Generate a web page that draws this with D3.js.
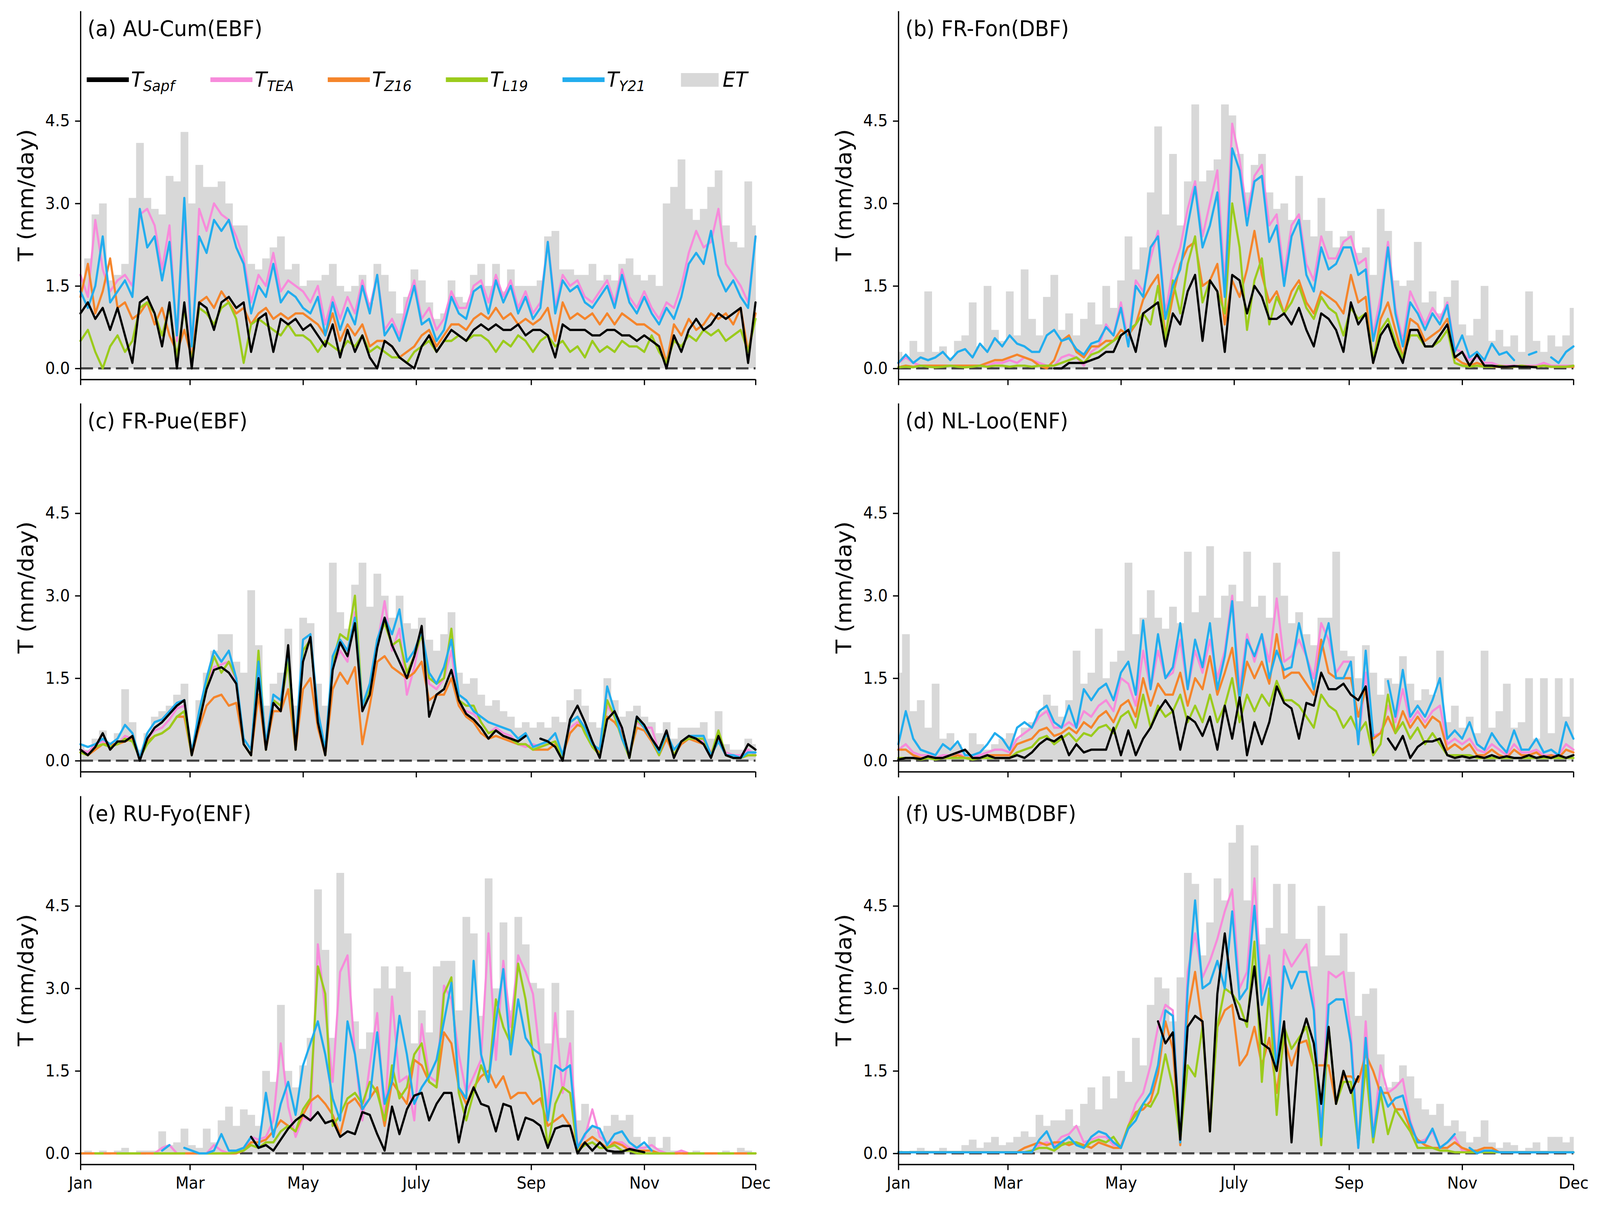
<!DOCTYPE html>
<html>
<head>
<meta charset="utf-8">
<script src="https://cdn.jsdelivr.net/npm/d3@7"></script>
<style>
  html, body { margin: 0; padding: 0; background: #fff; width: 100%; height: 100%; overflow: hidden; }
  #chart { width: 100vw; height: 100vh; }
  svg { display: block; font-family: 'DejaVu Sans', sans-serif; }
</style>
</head>
<body>
<div id="chart"></div>
<script>
// sampling grid (day of year) shared by all series
const sampleDays = [
  0, 4, 8, 12, 16, 20, 24, 28, 32, 36,
  40, 44, 48, 52, 56, 60, 64, 68, 72, 76,
  80, 84, 88, 92, 96, 100, 104, 108, 112, 116,
  120, 124, 128, 132, 136, 140, 144, 148, 152, 156,
  160, 164, 168, 172, 176, 180, 184, 188, 192, 196,
  200, 204, 208, 212, 216, 220, 224, 228, 232, 236,
  240, 244, 248, 252, 256, 260, 264, 268, 272, 276,
  280, 284, 288, 292, 296, 300, 304, 308, 312, 316,
  320, 324, 328, 332, 336, 340, 344, 348, 352, 356,
  360, 364]

const monthTickDays = [0, 59, 120, 181, 243, 304, 364]
const monthLabels = ['Jan', 'Mar', 'May', 'July', 'Sep', 'Nov', 'Dec']
const yTickValues = [0, 1.5, 3.0, 4.5]
const siteTitles = ['(a) AU-Cum(EBF)', '(b) FR-Fon(DBF)', '(c) FR-Pue(EBF)',
  '(d) NL-Loo(ENF)', '(e) RU-Fyo(ENF)', '(f) US-UMB(DBF)']
const seriesSubs = ['Sapf', 'TEA', 'Z16', 'L19', 'Y21']

// (a) AU-Cum
const auCumET = [
  1.6, 2.0, 2.8, 3.0, 1.6, 1.7, 1.9, 3.1, 4.1, 3.1,
  2.9, 2.8, 3.5, 3.4, 4.3, 3.0, 3.7, 3.3, 3.3, 3.4,
  3.0, 2.6, 2.6, 1.9, 1.8, 2.0, 2.2, 2.4, 1.8, 1.9,
  1.5, 1.6, 1.6, 1.7, 1.9, 1.5, 1.4, 1.5, 1.7, 1.2,
  1.9, 1.7, 1.4, 1.0, 1.3, 1.8, 1.6, 1.2, 0.9, 1.0,
  1.6, 1.3, 1.2, 1.7, 1.9, 1.5, 1.9, 1.4, 1.8, 1.5,
  1.5, 1.5, 1.6, 2.4, 2.5, 1.8, 1.8, 1.7, 1.7, 1.9,
  1.6, 1.7, 1.6, 1.9, 2.0, 1.7, 1.6, 1.7, 1.5, 3.0,
  3.3, 3.8, 2.9, 2.7, 2.9, 3.3, 3.6, 2.6, 2.3, 2.2,
  3.4, 2.6]
const auCumSapf = [
  1.0, 1.2, 0.9, 1.1, 0.7, 1.1, 0.6, 0.1, 1.2, 1.3,
  1.0, 0.4, 1.2, 0.0, 1.2, 0.0, 1.2, 1.1, 0.7, 1.2,
  1.3, 1.1, 1.2, 0.3, 0.9, 1.0, 0.3, 0.9, 0.8, 0.9,
  0.7, 0.8, 0.6, 0.4, 0.8, 0.2, 0.7, 0.3, 0.6, 0.2,
  0.0, 0.5, 0.4, 0.2, 0.1, 0.0, 0.4, 0.6, 0.3, 0.5,
  0.7, 0.6, 0.5, 0.7, 0.8, 0.7, 0.8, 0.7, 0.7, 0.8,
  0.6, 0.7, 0.7, 0.6, 0.2, 0.8, 0.7, 0.7, 0.7, 0.6,
  0.6, 0.7, 0.7, 0.6, 0.6, 0.5, 0.6, 0.5, 0.4, 0.0,
  0.6, 0.3, 0.7, 0.9, 0.7, 0.8, 1.0, 0.9, 1.0, 1.1,
  0.1, 1.2]
const auCumTEA = [
  1.7, 1.3, 2.7, 1.8, 1.4, 1.6, 1.7, 1.5, 2.8, 2.9,
  2.6, 1.8, 2.6, 0.5, 2.9, 0.2, 2.9, 2.5, 3.0, 2.8,
  2.7, 2.4, 2.0, 1.2, 1.7, 1.5, 2.1, 1.4, 1.6, 1.5,
  1.4, 1.2, 1.5, 0.8, 1.3, 0.9, 1.3, 1.0, 1.6, 1.1,
  1.7, 0.7, 0.9, 0.6, 1.2, 1.6, 0.9, 1.1, 0.7, 0.9,
  1.4, 1.1, 1.1, 1.5, 1.6, 1.2, 1.7, 1.3, 1.6, 1.1,
  1.4, 1.0, 1.2, 2.3, 1.1, 1.7, 1.5, 1.6, 1.3, 1.2,
  1.4, 1.6, 1.2, 1.8, 1.3, 1.1, 1.4, 1.1, 0.9, 1.2,
  1.1, 1.5, 2.1, 2.5, 2.2, 2.3, 2.9, 1.9, 1.7, 1.5,
  1.2, 2.4]
const auCumZ16 = [
  1.3, 1.9, 1.0, 1.4, 2.0, 1.1, 1.2, 0.9, 1.0, 1.2,
  0.8, 1.1, 0.6, 0.3, 0.7, 0.2, 1.2, 1.3, 1.1, 1.4,
  1.2, 1.0, 1.1, 0.8, 1.0, 1.1, 0.9, 1.0, 0.9, 1.0,
  1.0, 0.9, 0.8, 0.6, 1.0, 0.5, 0.8, 0.6, 0.8, 0.4,
  0.5, 0.5, 0.4, 0.2, 0.3, 0.4, 0.6, 0.7, 0.4, 0.6,
  0.8, 0.8, 0.7, 0.9, 1.0, 0.9, 1.1, 0.9, 1.0, 0.8,
  0.9, 0.8, 0.9, 1.1, 0.5, 1.2, 0.9, 1.0, 0.9, 1.0,
  0.8, 1.0, 0.8, 1.0, 0.9, 0.8, 0.8, 0.7, 0.6, 0.1,
  0.8, 0.6, 0.9, 0.7, 0.8, 1.0, 0.9, 1.0, 0.8, 1.1,
  0.3, 1.0]
const auCumL19 = [
  0.5, 0.7, 0.3, 0.0, 0.4, 0.6, 0.3, 0.5, 1.1, 1.2,
  1.0, 0.6, 1.1, 0.2, 1.1, 0.1, 1.1, 1.0, 0.8, 1.1,
  1.2, 0.9, 0.1, 0.8, 0.9, 0.8, 0.7, 0.6, 0.8, 0.6,
  0.6, 0.5, 0.3, 0.5, 0.4, 0.3, 0.5, 0.4, 0.6, 0.3,
  0.4, 0.3, 0.2, 0.2, 0.1, 0.3, 0.4, 0.5, 0.3, 0.5,
  0.5, 0.6, 0.5, 0.6, 0.6, 0.5, 0.3, 0.5, 0.4, 0.6,
  0.5, 0.3, 0.5, 0.6, 0.4, 0.5, 0.3, 0.4, 0.2, 0.5,
  0.3, 0.4, 0.3, 0.5, 0.4, 0.4, 0.3, 0.6, 0.3, 0.1,
  0.5, 0.4, 0.6, 0.5, 0.7, 0.6, 0.7, 0.5, 0.6, 0.7,
  0.3, 0.9]
const auCumY21 = [
  1.4, 1.1, 1.5, 2.4, 1.2, 1.4, 1.6, 1.3, 2.9, 2.2,
  2.4, 1.6, 2.3, 0.6, 3.1, 0.4, 2.4, 2.1, 2.7, 2.5,
  2.7, 2.2, 1.9, 1.0, 1.5, 1.3, 1.9, 1.2, 1.4, 1.3,
  1.1, 1.0, 1.3, 0.6, 1.2, 0.7, 1.1, 0.8, 1.5, 1.0,
  1.7, 0.6, 0.8, 0.5, 1.0, 1.5, 0.8, 0.9, 0.5, 0.7,
  1.3, 1.0, 0.9, 1.4, 1.5, 1.0, 1.6, 1.2, 1.5, 1.0,
  1.3, 0.9, 1.1, 2.3, 1.0, 1.6, 1.4, 1.5, 1.2, 1.1,
  1.3, 1.5, 1.1, 1.7, 1.2, 1.0, 1.3, 1.0, 0.8, 1.1,
  0.9, 1.3, 1.9, 2.1, 1.9, 2.5, 1.7, 1.4, 1.6, 1.3,
  1.1, 2.4]

// (b) FR-Fon
const frFonET = [
  0.3, 0.2, 0.5, 0.3, 1.4, 0.3, 0.4, 0.2, 0.5, 0.6,
  1.2, 0.4, 1.5, 0.7, 0.5, 1.4, 0.6, 1.8, 0.9, 0.6,
  1.3, 1.7, 0.7, 1.0, 0.6, 0.9, 1.2, 0.8, 1.5, 1.1,
  1.6, 2.4, 1.8, 2.2, 3.2, 4.4, 2.8, 3.9, 2.6, 3.4,
  4.8, 3.4, 3.6, 3.8, 4.8, 4.6, 3.9, 3.2, 3.7, 3.9,
  3.2, 2.9, 3.0, 2.7, 3.5, 2.7, 2.4, 3.1, 2.5, 2.2,
  2.4, 2.5, 2.1, 2.2, 1.7, 2.9, 2.5, 1.6, 1.5, 1.6,
  2.3, 1.2, 1.4, 1.0, 1.3, 1.6, 0.8, 0.6, 0.9, 1.5,
  0.5, 0.7, 0.4, 0.6, 0.3, 1.4, 0.5, 0.3, 0.6, 0.4,
  0.6, 1.1]
const frFonSapf = [
  null, null, null, null, null, null, null, null, null, null,
  null, null, null, null, null, null, null, null, null, null,
  null, 0.0, 0.0, 0.1, 0.1, 0.1, 0.15, 0.2, 0.3, 0.3,
  0.6, 0.7, 0.3, 1.0, 1.1, 1.2, 0.4, 1.0, 0.8, 1.4,
  1.7, 0.5, 1.6, 1.4, 0.3, 1.7, 1.6, 1.0, 1.5, 1.3,
  0.9, 0.9, 1.0, 0.8, 1.1, 0.7, 0.4, 1.0, 0.9, 0.7,
  0.3, 1.2, 0.8, 1.0, 0.1, 0.6, 0.8, 0.4, 0.1, 0.7,
  0.7, 0.4, 0.4, 0.6, 0.8, 0.2, 0.3, 0.05, 0.25, 0.05,
  0.05, 0.03, 0.03, 0.04, 0.03, 0.03, 0.02, null, null, null,
  null, null]
const frFonTEA = [
  0.1, 0.2, 0.1, 0.05, 0.05, 0.05, 0.05, 0.05, 0.05, 0.05,
  0.05, 0.05, 0.05, 0.1, 0.1, 0.15, 0.1, 0.2, 0.15, 0.1,
  0.05, 0.05, 0.2, 0.25, 0.2, 0.05, 0.3, 0.4, 0.8, 0.6,
  1.2, 0.5, 1.6, 1.4, 2.0, 2.5, 1.0, 1.8, 2.2, 2.9,
  3.4, 2.4, 3.0, 3.6, 1.5, 4.45, 3.8, 2.8, 3.5, 3.7,
  2.6, 2.8, 1.7, 2.6, 2.8, 1.9, 1.6, 2.4, 2.0, 2.0,
  2.3, 2.4, 1.9, 2.0, 0.6, 1.3, 2.3, 1.1, 0.5, 1.4,
  1.1, 0.8, 1.1, 0.9, 1.2, 0.35, 0.3, 0.15, 0.2, 0.1,
  0.1, 0.05, 0.05, 0.05, 0.05, 0.05, 0.05, 0.1, 0.05, 0.05,
  0.05, 0.05]
const frFonZ16 = [
  0.02, 0.05, 0.03, 0.05, 0.05, 0.05, 0.05, 0.05, 0.05, 0.05,
  0.05, 0.05, 0.1, 0.15, 0.15, 0.2, 0.25, 0.2, 0.15, 0.05,
  0.0, 0.15, 0.5, 0.6, 0.3, 0.2, 0.4, 0.4, 0.5, 0.5,
  0.7, 0.6, 0.8, 1.25, 1.5, 1.7, 0.6, 1.3, 1.9, 2.2,
  2.3, 1.5, 1.6, 1.9, 0.8, 1.6, 1.3, 1.8, 2.5, 1.7,
  1.2, 1.4, 1.0, 1.4, 1.6, 1.2, 1.0, 1.4, 1.3, 1.2,
  1.0, 1.7, 1.2, 1.3, 0.1, 0.9, 1.2, 0.7, 0.2, 0.9,
  0.8, 0.5, 0.6, 0.7, 0.9, 0.2, 0.1, 0.05, 0.1, 0.05,
  0.03, 0.03, 0.03, 0.03, 0.05, 0.03, 0.03, 0.05, 0.03, 0.03,
  0.03, 0.03]
const frFonL19 = [
  0.02, 0.03, 0.02, 0.05, 0.03, 0.02, 0.03, 0.05, 0.03, 0.02,
  0.03, 0.05, 0.03, 0.05, 0.05, 0.03, 0.05, 0.05, 0.03, 0.05,
  0.05, 0.05, 0.1, 0.15, 0.2, 0.1, 0.25, 0.3, 0.4, 0.5,
  0.6, 0.7, 0.8, 1.0, 0.8, 1.5, 0.5, 1.6, 1.0, 1.9,
  2.4, 1.2, 1.6, 1.4, 1.0, 3.0, 2.2, 0.7, 1.6, 2.0,
  0.8, 1.3, 1.0, 1.2, 1.5, 1.1, 0.9, 1.3, 1.1, 1.0,
  0.6, 1.1, 0.9, 1.0, 0.2, 0.7, 0.9, 0.5, 0.2, 0.6,
  0.6, 0.4, 0.4, 0.5, 0.7, 0.1, 0.05, 0.03, 0.05, 0.03,
  0.03, 0.05, 0.03, 0.03, 0.05, 0.03, 0.03, 0.05, 0.03, 0.03,
  0.03, 0.05]
const frFonY21 = [
  0.1, 0.25, 0.1, 0.2, 0.15, 0.2, 0.3, 0.15, 0.3, 0.35,
  0.2, 0.45, 0.3, 0.55, 0.4, 0.6, 0.45, 0.4, 0.3, 0.3,
  0.6, 0.7, 0.5, 0.55, 0.35, 0.25, 0.45, 0.5, 0.75, 0.6,
  1.1, 0.4, 1.5, 1.3, 2.2, 2.4, 0.9, 1.5, 1.8, 2.6,
  3.3, 2.2, 2.6, 3.2, 1.3, 4.0, 3.6, 2.6, 3.4, 3.5,
  2.3, 2.6, 1.5, 2.4, 2.7, 1.7, 1.4, 2.2, 1.8, 1.9,
  2.2, 2.2, 1.7, 1.8, 0.5, 1.1, 2.2, 1.0, 0.4, 1.2,
  1.0, 0.7, 1.0, 0.8, 1.15, 0.3, 0.6, 0.2, 0.3, 0.15,
  0.45, 0.25, 0.3, 0.15, null, 0.25, 0.3, null, 0.2, 0.1,
  0.3, 0.4]

// (c) FR-Pue
const frPueET = [
  0.3, 0.2, 0.4, 0.55, 0.3, 0.5, 1.3, 0.7, 0.2, 0.5,
  0.8, 0.9, 1.0, 1.2, 1.4, 0.3, 1.1, 1.6, 2.0, 2.3,
  2.3, 1.8, 1.6, 3.1, 2.1, 1.0, 1.4, 1.6, 2.4, 1.0,
  2.6, 2.5, 1.4, 1.0, 3.6, 2.7, 2.4, 3.2, 3.6, 2.8,
  3.4, 3.0, 2.6, 3.0, 2.5, 2.4, 2.6, 2.2, 2.0, 2.3,
  2.7, 1.6, 1.4, 1.5, 1.2, 1.0, 1.1, 0.9, 0.8, 0.6,
  0.7, 0.6, 0.7, 0.6, 0.8, 0.7, 1.1, 1.3, 1.0, 0.7,
  0.6, 1.5, 1.1, 0.8, 0.9, 1.0, 0.8, 0.7, 0.5, 0.7,
  0.4, 0.6, 0.6, 0.6, 0.7, 0.4, 0.9, 0.3, 0.2, 0.2,
  0.4, 0.3]
const frPueSapf = [
  0.2, 0.1, 0.25, 0.5, 0.2, 0.35, 0.35, 0.45, 0.0, 0.4,
  0.6, 0.7, 0.85, 1.0, 1.1, 0.1, 0.7, 1.3, 1.65, 1.7,
  1.6, 1.4, 0.3, 0.1, 1.5, 0.2, 1.05, 0.9, 2.1, 0.2,
  1.8, 2.25, 0.7, 0.1, 1.65, 2.15, 1.9, 2.5, 0.9, 1.2,
  2.05, 2.6, 2.1, 1.8, 1.5, 1.9, 2.45, 0.8, 1.2, 1.3,
  1.65, 1.1, 0.85, 0.75, 0.6, 0.4, 0.55, 0.45, 0.4, 0.35,
  0.45, null, 0.4, 0.35, 0.25, 0.0, 0.75, 1.0, 0.7, 0.35,
  0.05, 0.75, 0.9, 0.6, 0.05, 0.8, 0.65, 0.4, 0.2, 0.55,
  0.05, 0.35, 0.45, 0.4, 0.3, 0.05, 0.45, 0.1, 0.05, 0.05,
  0.3, 0.2]
const frPueTEA = [
  0.2, 0.15, 0.3, 0.35, 0.3, 0.3, 0.45, 0.4, 0.05, 0.4,
  0.55, 0.6, 0.75, 0.95, 1.0, 0.1, 0.8, 1.4, 1.7, 1.75,
  1.8, 1.45, 0.3, 0.1, 1.7, 0.2, 1.1, 1.0, 1.8, 0.2,
  2.0, 2.2, 0.8, 0.1, 1.7, 2.0, 1.8, 2.7, 0.9, 1.3,
  2.1, 2.9, 2.0, 2.4, 1.2, 1.7, 2.4, 1.4, 1.3, 1.5,
  2.0, 1.0, 0.9, 0.85, 0.7, 0.5, 0.6, 0.5, 0.45, 0.3,
  0.25, 0.3, 0.25, 0.3, 0.35, 0.05, 0.6, 0.7, 0.6, 0.3,
  0.15, 1.0, 0.8, 0.5, 0.1, 0.7, 0.6, 0.6, 0.15, 0.45,
  0.1, 0.35, 0.4, 0.4, 0.35, 0.15, 0.4, 0.15, 0.1, 0.1,
  0.2, 0.1]
const frPueZ16 = [
  0.15, 0.1, 0.2, 0.3, 0.3, 0.3, 0.35, 0.4, 0.05, 0.35,
  0.45, 0.5, 0.6, 0.8, 0.8, 0.1, 0.6, 1.0, 1.15, 1.2,
  1.0, 1.05, 0.3, 0.1, 1.2, 0.2, 0.9, 0.9, 1.3, 0.2,
  1.3, 1.5, 0.6, 0.1, 1.3, 1.6, 1.4, 1.7, 0.3, 1.0,
  1.8, 1.9, 1.7, 1.6, 1.5, 1.6, 1.8, 1.1, 1.2, 1.2,
  1.5, 1.0, 0.8, 0.7, 0.5, 0.4, 0.45, 0.4, 0.35, 0.3,
  0.3, 0.2, 0.2, 0.2, 0.3, 0.1, 0.5, 0.65, 0.6, 0.3,
  0.15, 0.8, 0.7, 0.5, 0.1, 0.6, 0.55, 0.35, 0.1, 0.4,
  0.1, 0.3, 0.4, 0.35, 0.3, 0.1, 0.35, 0.1, 0.05, 0.05,
  0.1, 0.1]
const frPueL19 = [
  0.15, 0.1, 0.25, 0.3, 0.25, 0.3, 0.4, 0.35, 0.05, 0.3,
  0.45, 0.5, 0.6, 0.8, 0.9, 0.1, 0.8, 1.4, 1.9, 1.6,
  1.8, 1.5, 0.3, 0.1, 2.0, 0.2, 1.1, 1.0, 1.8, 0.2,
  2.0, 2.2, 0.8, 0.1, 1.8, 2.3, 2.2, 3.0, 1.0, 1.3,
  2.2, 2.5, 2.1, 2.2, 1.6, 1.9, 2.3, 1.5, 1.4, 1.5,
  2.4, 1.1, 1.0, 1.0, 0.7, 0.5, 0.55, 0.45, 0.4, 0.3,
  0.3, 0.2, 0.25, 0.3, 0.35, 0.05, 0.7, 0.8, 0.5, 0.25,
  0.1, 1.1, 0.8, 0.4, 0.05, 0.75, 0.6, 0.4, 0.1, 0.5,
  0.1, 0.35, 0.4, 0.4, 0.4, 0.1, 0.55, 0.1, 0.05, 0.05,
  0.1, 0.1]
const frPueY21 = [
  0.3, 0.25, 0.3, 0.4, 0.3, 0.4, 0.65, 0.5, 0.05, 0.5,
  0.7, 0.75, 0.9, 1.05, 1.1, 0.15, 0.9, 1.5, 2.0, 1.8,
  2.0, 1.5, 0.4, 0.2, 1.8, 0.3, 1.2, 1.1, 2.0, 0.3,
  2.2, 2.3, 0.9, 0.2, 1.9, 2.2, 2.0, 2.6, 1.0, 1.4,
  2.2, 2.6, 2.3, 2.75, 1.8, 2.0, 2.35, 1.6, 1.4, 1.7,
  2.2, 1.2, 1.1, 0.9, 0.8, 0.7, 0.65, 0.6, 0.55, 0.4,
  0.5, 0.25, 0.3, 0.35, 0.5, 0.1, 0.7, 0.8, 0.6, 0.3,
  0.2, 1.35, 0.9, 0.4, 0.1, 0.8, 0.6, 0.4, 0.15, 0.5,
  0.2, 0.35, 0.45, 0.45, 0.45, 0.1, 0.35, 0.1, 0.1, 0.05,
  0.15, 0.15]

// (d) NL-Loo
const nlLooET = [
  1.6, 2.3, 0.9, 1.1, 0.6, 1.4, 0.4, 0.5, 0.3, 0.2,
  0.5, 0.3, 0.2, 0.3, 0.4, 0.5, 0.4, 0.6, 0.7, 0.9,
  1.2, 1.0, 0.8, 1.1, 2.0, 1.4, 1.6, 2.4, 1.5, 1.8,
  2.0, 3.6, 2.3, 2.6, 3.1, 2.6, 2.4, 2.8, 2.5, 3.8,
  2.7, 3.0, 3.9, 2.6, 3.0, 3.2, 2.9, 3.8, 2.8, 3.0,
  2.6, 3.6, 3.0, 2.5, 2.7, 2.3, 2.1, 2.6, 2.6, 3.8,
  2.0, 1.9, 1.5, 2.1, 1.6, 1.2, 1.5, 1.4, 1.9, 1.4,
  1.1, 1.3, 1.2, 2.0, 0.7, 1.0, 0.6, 0.8, 0.5, 2.0,
  0.6, 0.9, 1.4, 0.6, 0.7, 1.5, 0.4, 1.5, 0.5, 1.5,
  0.8, 1.5]
const nlLooSapf = [
  0.02, 0.05, 0.05, 0.03, 0.08, 0.05, 0.05, 0.1, 0.15, 0.2,
  0.05, 0.05, 0.1, 0.05, 0.05, 0.05, 0.1, 0.05, 0.15, 0.3,
  0.4, 0.35, 0.45, 0.1, 0.3, 0.15, 0.2, 0.2, 0.2, 0.6,
  0.1, 0.55, 0.1, 0.4, 0.6, 0.9, 1.1, 0.9, 0.2, 0.8,
  0.7, 0.45, 0.8, 0.2, 1.0, 0.4, 1.15, 0.1, 0.7, 0.3,
  0.7, 1.35, 1.05, 0.95, 0.4, 1.05, 1.0, 1.6, 1.3, 1.3,
  1.4, 1.2, 1.1, 1.35, 0.15, null, 0.4, 0.2, 0.45, 0.05,
  0.25, 0.35, 0.35, 0.4, 0.1, 0.05, 0.08, 0.05, 0.08, 0.05,
  0.1, 0.05, 0.08, 0.05, 0.05, 0.1, 0.05, 0.08, 0.05, 0.1,
  0.05, 0.1]
const nlLooTEA = [
  0.2, 0.3, 0.15, 0.1, 0.1, 0.05, 0.1, 0.1, 0.15, 0.05,
  0.05, 0.1, 0.15, 0.2, 0.2, 0.15, 0.4, 0.5, 0.6, 0.8,
  0.9, 0.6, 0.6, 0.7, 0.6, 0.9, 0.8, 1.0, 1.1, 0.9,
  1.5, 1.4, 1.0, 2.0, 1.3, 2.0, 1.5, 1.6, 2.2, 1.3,
  2.0, 1.6, 2.2, 1.5, 2.0, 3.0, 1.3, 2.3, 1.8, 2.3,
  1.8, 2.95, 1.8, 1.9, 2.2, 1.9, 1.5, 2.5, 2.2, 1.6,
  1.8, 1.8, 0.3, 1.6, 0.45, 0.5, 1.0, 0.7, 1.3, 0.7,
  0.9, 0.7, 0.9, 1.0, 0.3, 0.4, 0.3, 0.4, 0.2, 0.15,
  0.3, 0.2, 0.1, 0.3, 0.15, 0.15, 0.2, 0.1, 0.1, 0.1,
  0.3, 0.2]
const nlLooZ16 = [
  0.2, 0.2, 0.1, 0.05, 0.05, 0.05, 0.05, 0.05, 0.1, 0.05,
  0.05, 0.05, 0.1, 0.1, 0.1, 0.1, 0.3, 0.35, 0.4, 0.55,
  0.6, 0.45, 0.5, 0.6, 0.5, 0.7, 0.6, 0.8, 0.9, 0.7,
  1.0, 1.1, 0.8, 1.5, 1.0, 1.4, 1.2, 1.2, 1.6, 1.0,
  1.5, 1.3, 1.9, 1.2, 1.6, 2.05, 1.1, 1.8, 1.5, 1.8,
  1.4, 2.3, 1.5, 1.6, 1.6, 1.4, 1.2, 2.2, 1.6, 1.5,
  1.5, 1.5, 0.8, 1.3, 0.4, 0.5, 0.8, 0.5, 0.9, 0.6,
  0.8, 0.6, 0.8, 0.7, 0.2, 0.3, 0.2, 0.3, 0.1, 0.1,
  0.2, 0.1, 0.05, 0.2, 0.1, 0.1, 0.15, 0.05, 0.1, 0.05,
  0.2, 0.15]
const nlLooL19 = [
  0.05, 0.05, 0.05, 0.02, 0.05, 0.02, 0.05, 0.05, 0.05, 0.05,
  0.02, 0.05, 0.05, 0.05, 0.05, 0.05, 0.15, 0.2, 0.25, 0.4,
  0.45, 0.3, 0.4, 0.5, 0.35, 0.5, 0.45, 0.6, 0.65, 0.5,
  0.8, 0.9, 0.6, 1.2, 0.6, 1.0, 0.8, 0.9, 1.2, 0.7,
  1.0, 0.7, 1.2, 0.7, 1.0, 1.5, 0.7, 1.2, 0.9, 1.2,
  1.0, 1.45, 1.1, 1.1, 1.0, 0.8, 0.6, 1.2, 1.0, 0.9,
  0.6, 0.8, 0.5, 0.7, 0.1, 0.3, 1.2, 0.5, 0.7, 0.4,
  0.6, 0.3, 0.5, 0.3, 0.1, 0.1, 0.1, 0.1, 0.05, 0.05,
  0.05, 0.05, 0.05, 0.05, 0.05, 0.05, 0.05, 0.05, 0.05, 0.05,
  0.05, 0.05]
const nlLooY21 = [
  0.3, 0.9, 0.4, 0.2, 0.15, 0.1, 0.3, 0.2, 0.35, 0.1,
  0.1, 0.15, 0.3, 0.5, 0.4, 0.2, 0.6, 0.7, 0.6, 0.9,
  1.0, 0.7, 0.6, 1.0, 0.6, 1.3, 1.1, 1.3, 1.4, 1.1,
  1.6, 1.8, 1.2, 2.55, 1.3, 2.3, 1.5, 1.7, 2.5, 1.3,
  2.2, 1.7, 2.5, 1.3, 1.9, 2.9, 1.1, 2.2, 1.9, 2.3,
  1.5, 2.0, 1.65, 1.7, 2.5, 1.9, 1.3, 2.0, 2.5, 1.5,
  1.5, 1.8, 0.3, 2.0, 0.45, null, 1.45, 0.8, 1.65, 0.8,
  1.0, 0.8, 1.1, 1.5, 0.4, 0.55, 0.4, 0.7, 0.3, 0.2,
  0.5, 0.3, 0.15, 0.55, 0.2, 0.2, 0.4, 0.15, 0.2, 0.1,
  0.7, 0.4]

// (e) RU-Fyo
const ruFyoET = [
  0.0, 0.05, 0.0, 0.05, 0.0, 0.05, 0.1, 0.0, 0.05, 0.05,
  0.05, 0.4, 0.15, 0.2, 0.45, 0.15, 0.1, 0.45, 0.2, 0.6,
  0.85, 0.5, 0.8, 0.7, 0.5, 1.5, 1.3, 2.7, 1.5, 1.2,
  1.6, 2.1, 4.8, 3.7, 2.1, 5.1, 4.0, 2.4, 1.9, 2.2,
  3.0, 3.4, 3.0, 3.4, 3.3, 2.0, 2.6, 2.2, 3.4, 3.5,
  3.5, 2.6, 4.3, 4.0, 2.5, 5.0, 3.0, 4.2, 2.6, 4.3,
  3.8, 3.1, 3.0, 2.0, 3.1, 2.1, 2.6, 0.6, 0.9, 0.5,
  0.4, 0.5, 0.7, 0.6, 0.7, 0.3, 0.15, 0.3, 0.1, 0.3,
  0.05, 0.05, 0.0, 0.05, 0.0, 0.0, 0.0, 0.05, 0.0, 0.1,
  0.05, 0.0]
const ruFyoSapf = [
  null, null, null, null, null, null, null, null, null, null,
  null, null, null, null, null, null, null, null, null, null,
  null, null, null, 0.3, 0.1, 0.15, 0.05, 0.25, 0.45, 0.6,
  0.7, 0.6, 0.75, 0.55, 0.6, 0.3, 0.4, 0.35, 0.75, 0.7,
  0.35, 0.05, 0.85, 0.35, 0.8, 1.05, 1.1, 0.6, 0.9, 1.1,
  1.1, 0.2, 0.85, 1.2, 0.9, 0.85, 0.4, 0.9, 0.85, 0.25,
  0.65, 0.6, 0.5, 0.1, 0.45, 0.5, 0.5, 0.0, 0.2, 0.05,
  0.2, 0.05, 0.03, 0.03, 0.08, 0.05, 0.02, null, null, null,
  null, null, null, null, null, null, null, null, null, null,
  null, null]
const ruFyoTEA = [
  0.0, 0.0, 0.0, 0.0, 0.0, null, 0.0, 0.0, null, 0.0,
  0.0, 0.1, 0.15, 0.0, 0.0, 0.0, 0.0, 0.0, 0.15, 0.05,
  0.0, 0.02, 0.05, 0.3, 0.25, 0.3, 0.6, 2.0, 0.85, 0.3,
  0.65, 0.6, 3.8, 2.6, 1.3, 3.3, 3.6, 1.8, 0.6, 1.6,
  2.55, 0.6, 2.85, 1.3, 1.4, 0.6, 2.35, 1.4, 1.3, 3.05,
  2.8, 1.8, 1.1, 1.4, 1.7, 4.0, 1.7, 3.5, 2.3, 3.6,
  3.3, 2.9, 1.7, 0.8, 2.55, 1.1, 2.0, 0.15, 0.3, 0.8,
  0.3, 0.2, 0.2, 0.2, 0.1, 0.1, 0.1, 0.15, 0.05, 0.0,
  0.0, 0.05, 0.0, null, 0.0, 0.0, 0.0, null, 0.0, 0.0,
  0.0, 0.0]
const ruFyoZ16 = [
  0.0, 0.0, 0.0, 0.0, 0.0, 0.0, 0.0, 0.0, 0.0, 0.0,
  0.0, 0.0, 0.0, 0.0, 0.0, 0.0, 0.0, 0.0, 0.0, 0.0,
  0.0, 0.0, 0.05, 0.2, 0.2, 0.25, 0.4, 0.6, 0.5, 0.4,
  0.7, 0.95, 1.05, 0.9, 0.7, 0.35, 0.9, 1.0, 0.8, 1.0,
  1.2, 0.5, 1.3, 1.1, 0.9, 1.7, 1.6, 1.3, 1.2, 2.2,
  2.0, 1.2, 0.9, 1.2, 1.4, 1.5, 1.2, 1.4, 1.0, 1.1,
  1.1, 0.9, 1.0, 0.5, 0.6, 0.7, 0.5, 0.1, 0.2, 0.3,
  0.2, 0.1, 0.2, 0.15, 0.05, 0.05, 0.05, 0.05, 0.0, 0.0,
  0.0, 0.0, 0.0, 0.0, 0.0, 0.0, 0.0, 0.0, 0.0, 0.0,
  0.0, 0.0]
const ruFyoL19 = [
  0.0, null, 0.0, 0.0, null, 0.0, 0.0, 0.0, 0.0, null,
  0.0, 0.0, 0.0, 0.0, 0.0, null, 0.0, 0.0, 0.0, 0.0,
  0.0, 0.02, 0.05, 0.15, 0.1, 0.2, 0.2, 0.4, 0.5, 0.4,
  0.8, 1.0, 3.4, 2.9, 0.5, 0.7, 1.0, 1.1, 0.9, 1.3,
  1.1, 0.6, 1.6, 1.0, 1.2, 1.8, 2.0, 1.3, 1.2, 2.9,
  3.2, 1.1, 0.6, 1.1, 1.6, 1.3, 2.8, 2.3, 2.0, 3.45,
  2.8, 1.8, 1.3, 0.1, 0.9, 1.2, 1.1, 0.05, 0.15, 0.2,
  0.1, 0.1, 0.15, 0.05, 0.05, 0.0, 0.0, 0.0, 0.0, 0.0,
  0.0, null, 0.0, 0.0, 0.0, null, 0.0, 0.0, 0.0, null,
  0.0, 0.0]
const ruFyoY21 = [
  null, null, null, null, null, null, null, null, null, null,
  null, 0.05, 0.15, null, 0.1, 0.05, 0.0, 0.0, 0.05, 0.35,
  0.05, 0.05, 0.1, 0.3, 0.1, 1.1, 0.3, 0.9, 1.3, 0.7,
  1.6, 2.0, 2.4, 1.8, 1.0, 0.6, 2.4, 1.8, 0.8, 1.0,
  2.2, 0.9, 1.3, 2.5, 1.8, 0.9, 1.2, 1.4, 1.7, 2.4,
  3.1, 1.2, 1.0, 3.5, 1.8, 1.3, 2.4, 3.35, 1.8, 2.8,
  2.1, 1.9, 1.8, 0.6, 1.6, 1.5, 1.6, 0.1, 0.35, 0.5,
  0.45, 0.15, 0.35, 0.4, 0.2, 0.1, 0.2, 0.05, null, null,
  null, null, null, null, null, null, null, null, null, null,
  null, null]

// (f) US-UMB
const usUmbET = [
  0.05, 0.0, 0.05, 0.1, 0.05, 0.05, 0.1, 0.05, 0.05, 0.15,
  0.25, 0.1, 0.2, 0.3, 0.15, 0.2, 0.3, 0.4, 0.3, 0.7,
  0.5, 0.6, 0.6, 0.8, 0.5, 0.9, 1.2, 0.8, 1.4, 1.0,
  1.5, 1.3, 2.1, 1.6, 2.7, 3.2, 3.0, 2.4, 3.2, 5.1,
  4.9, 3.6, 4.2, 5.0, 4.6, 5.65, 5.97, 4.6, 5.6, 3.8,
  4.1, 4.9, 4.0, 4.9, 3.9, 3.9, 3.4, 4.5, 3.6, 3.6,
  4.0, 3.3, 2.5, 2.9, 3.0, 1.8, 1.2, 1.3, 1.6, 1.4,
  1.0, 0.8, 0.7, 0.9, 0.5, 0.6, 0.4, 0.2, 0.3, 0.6,
  0.2, 0.1, 0.2, 0.15, 0.05, 0.1, 0.2, 0.05, 0.3, 0.3,
  0.2, 0.3]
const usUmbSapf = [
  null, null, null, null, null, null, null, null, null, null,
  null, null, null, null, null, null, null, null, null, null,
  null, null, null, null, null, null, null, null, null, null,
  null, null, null, null, null, 2.4, 2.0, 2.2, 0.25, 2.3,
  2.5, 2.4, 0.4, 2.9, 4.0, 2.9, 2.45, 2.4, 3.4, 2.0,
  1.9, 1.5, 2.4, 0.2, 2.0, 2.45, 2.0, 0.9, 2.3, 0.9,
  1.5, 1.1, 1.4, null, null, null, null, null, null, null,
  null, null, null, null, null, null, null, null, null, null,
  null, null, null, null, null, null, null, null, null, null,
  null, null]
const usUmbTEA = [
  0.02, 0.02, 0.02, 0.02, 0.02, 0.02, 0.02, 0.02, 0.02, 0.02,
  0.02, 0.02, 0.02, 0.02, 0.02, 0.02, 0.02, 0.02, 0.05, 0.15,
  0.2, 0.15, 0.3, 0.35, 0.5, 0.2, 0.25, 0.3, 0.3, 0.15,
  0.15, 0.5, 0.9, 1.1, 1.6, 2.3, 2.7, 2.6, 0.2, 3.3,
  4.0, 3.2, 3.5, 3.9, 4.4, 4.8, 3.0, 3.3, 5.0, 2.9,
  3.6, 1.6, 3.7, 3.4, 3.6, 3.8, 2.8, 0.3, 3.3, 3.2,
  3.3, 2.2, 0.1, 2.4, 0.3, 1.6, 1.1, 1.2, 1.35, 0.6,
  0.2, 0.25, 0.4, 0.1, 0.2, 0.3, 0.05, 0.05, 0.02, 0.05,
  0.02, 0.02, 0.02, 0.02, 0.02, 0.02, 0.02, 0.02, 0.02, 0.02,
  0.02, 0.02]
const usUmbZ16 = [
  0.02, 0.02, 0.02, 0.02, 0.02, 0.02, 0.02, 0.02, 0.02, 0.02,
  0.02, 0.02, 0.02, 0.02, 0.02, 0.02, 0.02, 0.1, 0.15, 0.2,
  0.15, 0.2, 0.2, 0.15, 0.2, 0.15, 0.1, 0.2, 0.15, 0.1,
  0.1, 0.5, 0.75, 0.8, 0.95, 1.45, 2.4, 1.9, 0.15, 2.55,
  3.3, 2.3, 0.5, 2.3, 2.6, 2.7, 1.6, 1.8, 2.3, 1.6,
  2.1, 1.1, 2.1, 1.6, 2.0, 2.05, 1.6, 1.6, 1.6, 0.9,
  1.4, 1.4, 1.3, 1.8, 1.5, 1.1, 1.1, 0.8, 0.8, 0.45,
  0.25, 0.15, 0.1, 0.1, 0.1, 0.2, 0.1, 0.05, 0.05, 0.1,
  0.1, 0.02, 0.02, 0.02, 0.02, 0.02, 0.02, 0.02, 0.02, 0.02,
  0.02, 0.02]
const usUmbL19 = [
  0.02, 0.02, 0.02, 0.02, 0.02, 0.02, 0.02, 0.02, 0.02, 0.02,
  0.02, 0.02, 0.02, 0.02, 0.02, 0.02, 0.02, 0.02, 0.05, 0.1,
  0.1, 0.05, 0.15, 0.2, 0.2, 0.1, 0.2, 0.25, 0.2, 0.3,
  0.1, 0.5, 0.7, 0.9, 0.85, 1.1, 1.8, 1.2, 0.25, 1.6,
  1.4, 2.3, 0.4, 2.3, 3.0, 2.9, 2.7, 2.3, 3.85, 1.3,
  3.0, 0.7, 2.3, 1.9, 2.1, 2.3, 1.6, 0.15, 2.3, 0.9,
  1.3, 1.3, 0.15, 1.6, 0.2, 1.1, 0.35, 0.8, 0.6, 0.4,
  0.1, 0.1, 0.1, 0.05, 0.05, 0.02, 0.02, 0.02, 0.02, 0.02,
  0.02, 0.02, 0.02, 0.02, 0.02, 0.02, 0.02, 0.02, 0.02, 0.02,
  0.02, 0.02]
const usUmbY21 = [
  0.02, 0.02, 0.02, 0.02, 0.02, 0.02, 0.02, 0.02, 0.02, 0.02,
  0.02, 0.02, 0.02, 0.02, 0.02, 0.02, 0.02, 0.02, 0.02, 0.25,
  0.4, 0.1, 0.2, 0.3, 0.15, 0.1, 0.3, 0.4, 0.35, 0.2,
  0.1, 0.45, 0.6, 0.9, 1.1, 1.6, 2.6, 2.5, 0.2, 3.0,
  4.6, 3.0, 3.1, 3.5, 3.0, 4.4, 2.8, 3.0, 4.5, 2.7,
  3.2, 1.5, 3.4, 3.0, 3.3, 3.3, 2.6, 0.3, 2.7, 2.8,
  2.8, 2.0, 0.1, 2.1, 0.3, 1.2, 0.85, 1.0, 1.05, 0.55,
  0.2, 0.2, 0.45, 0.1, 0.2, 0.35, null, 0.1, 0.0, 0.05,
  0.05, 0.02, 0.02, 0.02, 0.02, 0.02, 0.02, 0.02, 0.02, 0.02,
  0.02, 0.02]

const panels = [
  { title: siteTitles[0], et: auCumET, sapf: auCumSapf, tea: auCumTEA, z16: auCumZ16, l19: auCumL19, y21: auCumY21 },
  { title: siteTitles[1], et: frFonET, sapf: frFonSapf, tea: frFonTEA, z16: frFonZ16, l19: frFonL19, y21: frFonY21 },
  { title: siteTitles[2], et: frPueET, sapf: frPueSapf, tea: frPueTEA, z16: frPueZ16, l19: frPueL19, y21: frPueY21 },
  { title: siteTitles[3], et: nlLooET, sapf: nlLooSapf, tea: nlLooTEA, z16: nlLooZ16, l19: nlLooL19, y21: nlLooY21 },
  { title: siteTitles[4], et: ruFyoET, sapf: ruFyoSapf, tea: ruFyoTEA, z16: ruFyoZ16, l19: ruFyoL19, y21: ruFyoY21 },
  { title: siteTitles[5], et: usUmbET, sapf: usUmbSapf, tea: usUmbTEA, z16: usUmbZ16, l19: usUmbL19, y21: usUmbY21 }
]

const width = 4335
const height = 3084
const colLeft = [218, 2434]
const rowTop = [28, 1032, 2037]
const plotW = 1829
const plotH = 943

const etColor = '#d8d8d8'
const colorOf = { sapf: '#000000', tea: '#f78bdb', z16: '#f5852b', l19: '#9bcb1c', y21: '#22adee' }
// drawing order: black on top
const drawOrder = ['tea', 'z16', 'l19', 'y21', 'sapf']
const legendKeys = ['sapf', 'tea', 'z16', 'l19', 'y21']
const legendX = [17, 352, 670, 990, 1306]

// the figure is stretched to fill the whole viewport
const svg = d3
  .select('#chart')
  .append('svg')
  .attr('viewBox', '0 0 ' + width + ' ' + height)
  .attr('preserveAspectRatio', 'none')
  .attr('width', '100%')
  .attr('height', '100%')

svg.append('rect').attr('width', width).attr('height', height).attr('fill', '#fff')

panels.forEach((p, k) => {
  const col = k % 2
  const row = Math.floor(k / 2)
  const g = svg
    .append('g')
    .attr('transform', 'translate(' + colLeft[col] + ',' + rowTop[row] + ')')

  const xScale = d3.scaleLinear().domain([0, 364]).range([0, plotW])
  const yScale = d3.scaleLinear().domain([-0.2, 6.5]).range([plotH, 0])

  // ET bars
  g.append('g')
    .selectAll('rect')
    .data(p.et)
    .join('rect')
    .attr('x', (d, i) => xScale(Math.max(0, sampleDays[i] - 2)))
    .attr('width', (d, i) => xScale(Math.min(364, sampleDays[i] + 2)) - xScale(Math.max(0, sampleDays[i] - 2)) + 0.8)
    .attr('y', d => yScale(d))
    .attr('height', d => yScale(0) - yScale(d))
    .attr('fill', etColor)

  g.append('line')
    .attr('x1', xScale(0))
    .attr('x2', xScale(364))
    .attr('y1', yScale(0))
    .attr('y2', yScale(0))
    .attr('stroke', '#444')
    .attr('stroke-width', 5.5)
    .attr('stroke-dasharray', '34,14')

  const line = d3
    .line()
    .defined(d => d != null)
    .x((d, i) => xScale(sampleDays[i]))
    .y(d => yScale(d))

  drawOrder.forEach(key => {
    g.append('path')
      .datum(p[key])
      .attr('d', line)
      .attr('fill', 'none')
      .attr('stroke', colorOf[key])
      .attr('stroke-width', 5.8)
      .attr('stroke-linejoin', 'round')
      .attr('stroke-linecap', 'round')
  })

  // axes
  const yAxis = d3
    .axisLeft(yScale)
    .tickValues(yTickValues)
    .tickFormat(d3.format('.1f'))
    .tickSize(14.6)
    .tickPadding(14)
    .tickSizeOuter(0)
  const ya = g.append('g').attr('class', 'axis y-axis').call(yAxis)

  const xAxis = d3
    .axisBottom(xScale)
    .tickValues(monthTickDays)
    .tickFormat((d, i) => (row === 2 ? monthLabels[i] : ''))
    .tickSize(14.6)
    .tickPadding(18)
    .tickSizeOuter(0)
  const xa = g
    .append('g')
    .attr('class', 'axis x-axis')
    .attr('transform', 'translate(0,' + plotH + ')')
    .call(xAxis)

  ;[ya, xa].forEach(a => {
    a.attr('font-size', null).attr('font-family', null)
    a.select('.domain').attr('stroke', '#000').attr('stroke-width', 3.3)
    a.selectAll('.tick line').attr('stroke', '#000').attr('stroke-width', 3.3)
    a.selectAll('.tick text')
      .attr('font-size', 42)
      .attr('font-family', 'DejaVu Sans')
      .attr('fill', '#000')
  })

  g.append('text')
    .attr('transform', 'translate(-128,' + plotH / 2 + ') rotate(-90)')
    .attr('text-anchor', 'middle')
    .attr('font-size', 58)
    .attr('fill', '#000')
    .text('T (mm/day)')

  g.append('text')
    .attr('x', 19)
    .attr('y', 64)
    .attr('font-size', 56)
    .attr('fill', '#000')
    .text(p.title)

  if (k === 0) {
    legendKeys.forEach((key, j) => {
      const lx = legendX[j]
      g.append('line')
        .attr('x1', lx)
        .attr('x2', lx + 114)
        .attr('y1', 176)
        .attr('y2', 176)
        .attr('stroke', colorOf[key])
        .attr('stroke-width', 12)
      const t = g.append('text')
        .attr('x', lx + 120)
        .attr('y', 194)
        .attr('font-style', 'italic')
        .attr('fill', '#000')
      t.append('tspan').attr('font-size', 54).text('T')
      t.append('tspan').attr('font-size', 38).attr('dy', 11).text(seriesSubs[j])
    })
    g.append('rect')
      .attr('x', 1627)
      .attr('y', 159)
      .attr('width', 102)
      .attr('height', 35)
      .attr('fill', etColor)
    g.append('text')
      .attr('x', 1740)
      .attr('y', 194)
      .attr('font-style', 'italic')
      .attr('font-size', 54)
      .attr('fill', '#000')
      .text('ET')
  }
})
</script>
</body>
</html>
